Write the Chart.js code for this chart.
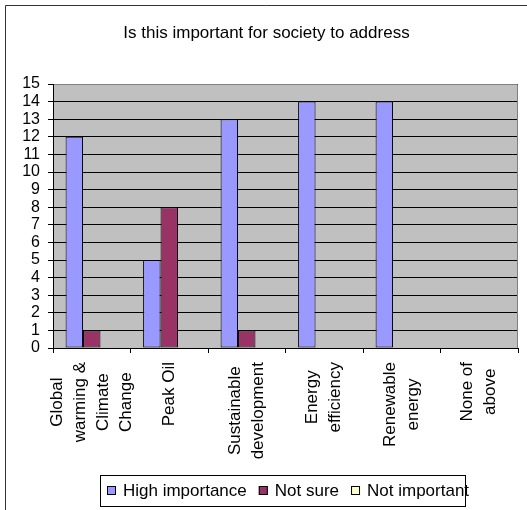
<!DOCTYPE html>
<html>
<head>
<meta charset="utf-8">
<script src="https://cdn.jsdelivr.net/npm/chart.js@4/dist/chart.umd.min.js"></script>
<style>
  html, body { margin: 0; padding: 0; background: #fff; }
  canvas { display: block; }
</style>
</head>
<body>
<canvas id="c" width="527" height="510"></canvas>
<script>
const chartTitle = 'Is this important for society to address';
const categories = [
  ['Global', 'warming &', 'Climate', 'Change'],
  ['Peak Oil'],
  ['Sustainable', 'development'],
  ['Energy', 'efficiency'],
  ['Renewable', 'energy'],
  ['None of', 'above']
];
const seriesNames = ['High importance', 'Not sure', 'Not important'];
const highImportance = [12, 5, 13, 14, 14, 0];
const notSure = [1, 8, 1, 0, 0, 0];
const notImportant = [0, 0, 0, 0, 0, 0];
const yTicks = [0, 15, 1]; // min, max, step
const seriesColors = ['#9999FF', '#993366', '#FFFFCC'];

const FONT = '"Liberation Sans", Arial, sans-serif';

const decor = {
  id: 'decor',
  beforeDraw(chart) {
    const ctx = chart.ctx, a = chart.chartArea;
    ctx.save();
    ctx.fillStyle = '#fff';
    ctx.fillRect(0, 0, chart.width, chart.height);
    // outer frame (left and top visible)
    ctx.strokeStyle = '#333';
    ctx.lineWidth = 1;
    ctx.beginPath();
    ctx.moveTo(5.5, chart.height + 5);
    ctx.lineTo(5.5, 5.5);
    ctx.lineTo(chart.width + 5, 5.5);
    ctx.stroke();
    // plot background
    ctx.fillStyle = '#C0C0C0';
    ctx.fillRect(a.left, a.top, a.right - a.left, a.bottom - a.top);
    ctx.restore();
  },
  afterDraw(chart) {
    const ctx = chart.ctx, a = chart.chartArea;
    ctx.save();
    // plot border top/right gray
    ctx.strokeStyle = '#808080';
    ctx.lineWidth = 1;
    ctx.beginPath();
    ctx.moveTo(a.left + 1, a.top + 0.5);
    ctx.lineTo(a.right - 0.5, a.top + 0.5);
    ctx.lineTo(a.right - 0.5, a.bottom);
    ctx.stroke();

    // title
    ctx.fillStyle = '#000';
    ctx.font = '17px ' + FONT;
    ctx.textAlign = 'center';
    ctx.textBaseline = 'alphabetic';
    ctx.fillText(chartTitle, 266.5, 38);

    // x labels, rotated, lines centered within block
    const xs = chart.scales.x;
    ctx.font = '17px ' + FONT;
    const lh = 23;
    categories.forEach((lines, i) => {
      const cx = xs.getPixelForTick(i);
      let maxW = 0;
      lines.forEach(l => { maxW = Math.max(maxW, ctx.measureText(l).width); });
      const cy = a.bottom + 14 + maxW / 2;
      lines.forEach((l, j) => {
        const off = (j - (lines.length - 1) / 2) * lh;
        ctx.save();
        ctx.translate(cx + off, cy);
        ctx.rotate(-Math.PI / 2);
        ctx.textAlign = 'center';
        ctx.textBaseline = 'middle';
        ctx.fillText(l, 0, 0);
        ctx.restore();
      });
    });

    // legend
    const bx = 100, by = 475, bw = 365, bh = 31;
    ctx.fillStyle = '#fff';
    ctx.fillRect(bx, by, bw, bh);
    ctx.strokeStyle = '#000';
    ctx.strokeRect(bx + 0.5, by + 0.5, bw, bh);
    ctx.font = '17px ' + FONT;
    ctx.textAlign = 'left';
    ctx.textBaseline = 'alphabetic';
    let x = bx + 7;
    chart.data.datasets.forEach(ds => {
      ctx.fillStyle = ds.backgroundColor;
      ctx.fillRect(x, by + 11, 9, 9);
      ctx.strokeStyle = '#000';
      ctx.strokeRect(x + 0.5, by + 11.5, 8, 8);
      ctx.fillStyle = '#000';
      ctx.fillText(ds.label, x + 16, by + 21);
      x += 16 + ctx.measureText(ds.label).width + 12;
    });
    ctx.restore();
  }
};

new Chart(document.getElementById('c'), {
  type: 'bar',
  data: {
    labels: categories,
    datasets: [
      { label: seriesNames[0], data: highImportance, backgroundColor: seriesColors[0] },
      { label: seriesNames[1], data: notSure, backgroundColor: seriesColors[1] },
      { label: seriesNames[2], data: notImportant, backgroundColor: seriesColors[2] }
    ].map(d => Object.assign(d, {
      borderColor: '#000', borderWidth: 1, borderSkipped: false,
      barPercentage: 1, categoryPercentage: 0.675
    }))
  },
  options: {
    responsive: false,
    animation: false,
    devicePixelRatio: 1,
    layout: { padding: { left: 0, top: 84, right: 9, bottom: 0 } },
    plugins: {
      legend: { display: false },
      title: { display: false },
      tooltip: { enabled: false }
    },
    scales: {
      x: {
        offset: true,
        grid: { offset: true, drawOnChartArea: false, drawTicks: true, tickLength: 5, color: '#000' },
        border: { display: true, color: '#000', width: 1 },
        ticks: { display: false },
        afterFit(s) { s.height = 162; }
      },
      y: {
        min: yTicks[0], max: yTicks[1],
        ticks: { stepSize: yTicks[2], autoSkip: false, color: '#000', padding: 8, font: { family: FONT, size: 16 } },
        grid: { color: '#000', tickLength: 5, drawTicks: true },
        border: { display: true, color: '#000', width: 1 },
        afterFit(s) { s.width = 53; }
      }
    }
  },
  plugins: [decor]
});
</script>
</body>
</html>
